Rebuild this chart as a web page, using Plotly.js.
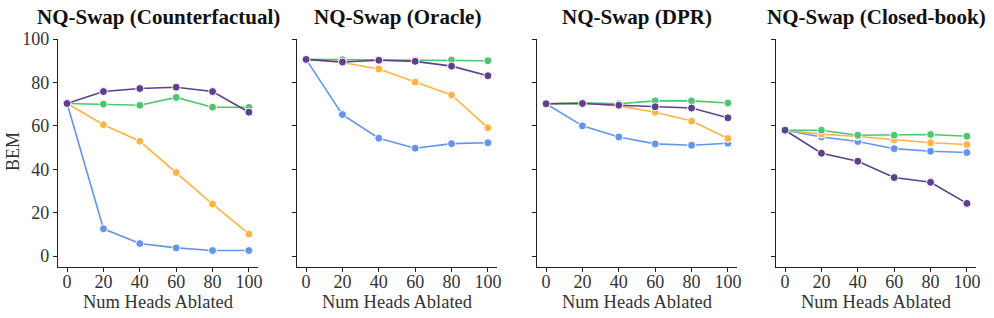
<!DOCTYPE html>
<html>
<head>
<meta charset="utf-8">
<script src="https://cdn.plot.ly/plotly-3.0.1.min.js"></script>
<style>html,body{margin:0;padding:0;background:#fff;}#chart{width:994px;height:318px;}</style>
</head>
<body>
<div id="chart"></div>
<script>
const heads = [0, 20, 40, 60, 80, 100];
const panelTitles = ["NQ-Swap (Counterfactual)", "NQ-Swap (Oracle)", "NQ-Swap (DPR)", "NQ-Swap (Closed-book)"];
const yTicks = [0, 20, 40, 60, 80, 100];
const yLabel = "BEM";
const xLabel = "Num Heads Ablated";

const blueVals = [
  [70.3, 12.6, 5.8, 3.8, 2.6, 2.6],
  [90.6, 65.2, 54.3, 49.7, 51.8, 52.2],
  [70.2, 60.0, 54.9, 51.7, 51.1, 52.0],
  [58.0, 54.9, 52.8, 49.5, 48.3, 47.7]
];
const orangeVals = [
  [70.3, 60.5, 52.9, 38.5, 24.0, 10.2],
  [90.6, 89.2, 86.2, 80.2, 74.2, 59.1],
  [70.2, 70.5, 69.2, 66.3, 62.2, 54.2],
  [58.0, 56.2, 55.1, 53.5, 52.2, 51.4]
];
const greenVals = [
  [70.3, 70.0, 69.5, 73.1, 68.6, 68.5],
  [90.6, 90.5, 90.3, 90.2, 90.3, 90.0],
  [70.2, 70.6, 70.2, 71.5, 71.5, 70.5],
  [58.0, 58.0, 55.7, 55.7, 56.0, 55.2]
];
const purpleVals = [
  [70.3, 75.8, 77.2, 77.8, 75.8, 66.3],
  [90.6, 89.4, 90.2, 89.7, 87.5, 83.1],
  [70.2, 70.3, 69.5, 68.8, 68.2, 63.7],
  [58.0, 47.4, 43.7, 36.2, 34.0, 24.3]
];

const series = [
  {vals: blueVals, color: "#6495ED"},
  {vals: orangeVals, color: "#FFB443"},
  {vals: greenVals, color: "#4EC671"},
  {vals: purpleVals, color: "#5E3F8E"}
];

const W = 994, H = 318;
const pxL = [58, 297, 537, 776];
const pw = 200;
const yTop = 39, yBot = 267;
const serif = '"Liberation Serif", "DejaVu Serif", serif';

const traces = [];
for (let p = 0; p < 4; p++) {
  const sfx = p === 0 ? "" : String(p + 1);
  for (const s of series) {
    traces.push({
      x: heads, y: s.vals[p], type: "scatter", mode: "lines+markers",
      xaxis: "x" + sfx, yaxis: "y" + sfx,
      line: {color: s.color, width: 1.6},
      marker: {color: s.color, size: 8, line: {color: "#ffffff", width: 1}},
      showlegend: false, hoverinfo: "skip"
    });
  }
}

const layout = {
  width: W, height: H,
  margin: {l: 0, r: 0, t: 0, b: 0},
  paper_bgcolor: "#fff", plot_bgcolor: "#fff",
  showlegend: false,
  annotations: [{
    text: yLabel, xref: "paper", yref: "paper", x: 13 / W, y: (H - 152) / H,
    xanchor: "center", yanchor: "middle", textangle: -90, showarrow: false,
    font: {family: serif, size: 18, color: "#333"}
  }]
};
for (let p = 0; p < 4; p++) {
  const sfx = p === 0 ? "" : String(p + 1);
  const xd = [pxL[p] / W, (pxL[p] + pw) / W];
  layout["xaxis" + sfx] = {
    domain: xd, anchor: "y" + sfx, range: [-5, 105],
    tickvals: heads, ticktext: heads.map(String),
    showline: true, linecolor: "#222", linewidth: 1.2,
    ticks: "outside", ticklen: 4, tickcolor: "#222", tickwidth: 1,
    ticklabelstandoff: -6,
    showgrid: false, zeroline: false,
    tickfont: {family: serif, size: 18, color: "#333"},
    title: {text: xLabel, font: {family: serif, size: 18.5, color: "#333"}, standoff: 0}
  };
  layout["yaxis" + sfx] = {
    domain: [(H - yBot) / H, (H - yTop) / H], anchor: "x" + sfx, range: [-5, 100],
    tickvals: yTicks, ticktext: yTicks.map(String), showticklabels: p === 0,
    showline: true, linecolor: "#222", linewidth: 1.2,
    ticks: "outside", ticklen: 4, tickcolor: "#222", tickwidth: 1,
    showgrid: false, zeroline: false,
    tickfont: {family: serif, size: 18, color: "#333"},
    title: {text: ""}
  };
  layout.annotations.push({
    text: "<b>" + panelTitles[p] + "</b>", xref: "paper", yref: "paper",
    x: (pxL[p] + pw / 2) / W, y: (H - 17) / H, xanchor: "center", yanchor: "middle",
    showarrow: false, font: {family: serif, size: 21, color: "#111"}
  });
}

Plotly.newPlot("chart", traces, layout, {staticPlot: true, displayModeBar: false});
</script>
</body>
</html>
